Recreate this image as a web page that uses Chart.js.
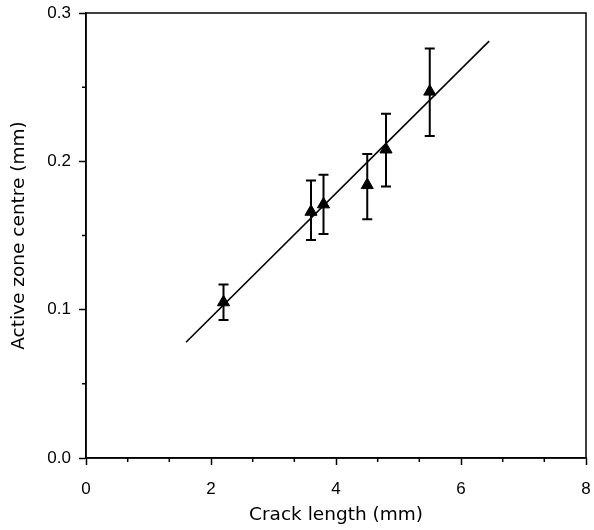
<!DOCTYPE html>
<html>
<head>
<meta charset="utf-8">
<script src="https://cdn.jsdelivr.net/npm/chart.js@4.4.0/dist/chart.umd.min.js"></script>
<style>
  html, body { margin: 0; padding: 0; background: #fff; }
  #wrap { width: 594px; height: 530px; }
</style>
</head>
<body>
<div id="wrap"><canvas id="crackChart"></canvas></div>
<script>
// measured points
const crackLength = [2.2, 3.6, 3.8, 4.5, 4.8, 5.5];
const zoneCentre = [0.105, 0.166, 0.171, 0.184, 0.208, 0.247];
const errLow = [0.093, 0.147, 0.151, 0.161, 0.183, 0.217];
const errHigh = [0.117, 0.187, 0.191, 0.205, 0.232, 0.276];

// fitted line end points
const fitX = [1.6, 6.45];
const fitY = [0.078, 0.281];

const xTicks = [0, 2, 4, 6, 8];
const xMinorTicks = [0.667, 1.333, 2.667, 3.333, 4.667, 5.333, 6.667, 7.333];
const yTicks = [0, 0.1, 0.2, 0.3];
const yMinorTicks = [0.05, 0.15, 0.25];

const errorBars = {
    id: 'errorBars',
    beforeDatasetsDraw(chart) {
        const { ctx, scales: { x, y } } = chart;
        ctx.save();
        ctx.strokeStyle = '#000';
        ctx.lineWidth = 2;
        crackLength.forEach((cx, i) => {
            const px = x.getPixelForValue(cx);
            const top = y.getPixelForValue(errHigh[i]);
            const bot = y.getPixelForValue(errLow[i]);
            ctx.beginPath();
            ctx.moveTo(px, top);
            ctx.lineTo(px, bot);
            ctx.moveTo(px - 5, top);
            ctx.lineTo(px + 5, top);
            ctx.moveTo(px - 5, bot);
            ctx.lineTo(px + 5, bot);
            ctx.stroke();
        });
        ctx.restore();
    }
};

const frame = {
    id: 'frame',
    afterDraw(chart) {
        const { ctx, chartArea: a, scales: { x, y } } = chart;
        ctx.save();
        ctx.strokeStyle = '#000';
        ctx.lineWidth = 1.5;
        ctx.strokeRect(a.left, a.top, a.right - a.left, a.bottom - a.top);
        ctx.beginPath();
        xMinorTicks.forEach(v => {
            const px = x.getPixelForValue(v);
            ctx.moveTo(px, a.bottom);
            ctx.lineTo(px, a.bottom + 4);
        });
        yMinorTicks.forEach(v => {
            const py = y.getPixelForValue(v);
            ctx.moveTo(a.left, py);
            ctx.lineTo(a.left - 4, py);
        });
        ctx.stroke();
        ctx.restore();
    }
};

const ctx = document.getElementById('crackChart');

new Chart(ctx, {
    type: 'scatter',
    data: {
        datasets: [{
            type: 'line',
            data: fitX.map((v, i) => ({ x: v, y: fitY[i] })),
            borderColor: '#000',
            borderWidth: 1.6,
            pointRadius: 0,
            fill: false
        }, {
            data: crackLength.map((v, i) => ({ x: v, y: zoneCentre[i] })),
            pointStyle: 'triangle',
            pointRadius: 7,
            backgroundColor: '#000',
            borderColor: '#000',
            borderWidth: 1
        }]
    },
    options: {
        responsive: true,
        maintainAspectRatio: false,
        animation: false,
        layout: { padding: { top: 0, right: 0, left: 0, bottom: 0 } },
        plugins: {
            legend: { display: false },
            tooltip: { enabled: false }
        },
        scales: {
            x: {
                type: 'linear',
                min: 0,
                max: 8,
                afterBuildTicks: s => { s.ticks = xTicks.map(v => ({ value: v })); },
                afterFit: s => { s.height = 72; s.paddingRight = 2; },
                ticks: {
                    color: '#000',
                    padding: 14,
                    font: { family: 'Liberation Sans', size: 17 },
                    callback: v => String(v)
                },
                grid: { drawOnChartArea: false, tickLength: 7, tickColor: '#000', tickWidth: 1.5 },
                border: { color: '#000', width: 1.5 },
                title: {
                    display: true,
                    text: 'Crack length (mm)',
                    color: '#000',
                    font: { family: 'DejaVu Sans', size: 18.5 },
                    padding: { top: 2 }
                }
            },
            y: {
                type: 'linear',
                min: 0,
                max: 0.3,
                afterBuildTicks: s => { s.ticks = yTicks.map(v => ({ value: v })); },
                afterFit: s => { s.width = 86; s.paddingTop = 13; },
                ticks: {
                    color: '#000',
                    padding: 8,
                    font: { family: 'Liberation Sans', size: 17 },
                    callback: v => v.toFixed(1)
                },
                grid: { drawOnChartArea: false, tickLength: 7, tickColor: '#000', tickWidth: 1.5 },
                border: { color: '#000', width: 1.5 },
                title: {
                    display: true,
                    text: 'Active zone centre (mm)',
                    color: '#000',
                    font: { family: 'DejaVu Sans', size: 18.5 },
                    padding: { top: 8, bottom: 4 }
                }
            }
        }
    },
    plugins: [errorBars, frame]
});
</script>
</body>
</html>
